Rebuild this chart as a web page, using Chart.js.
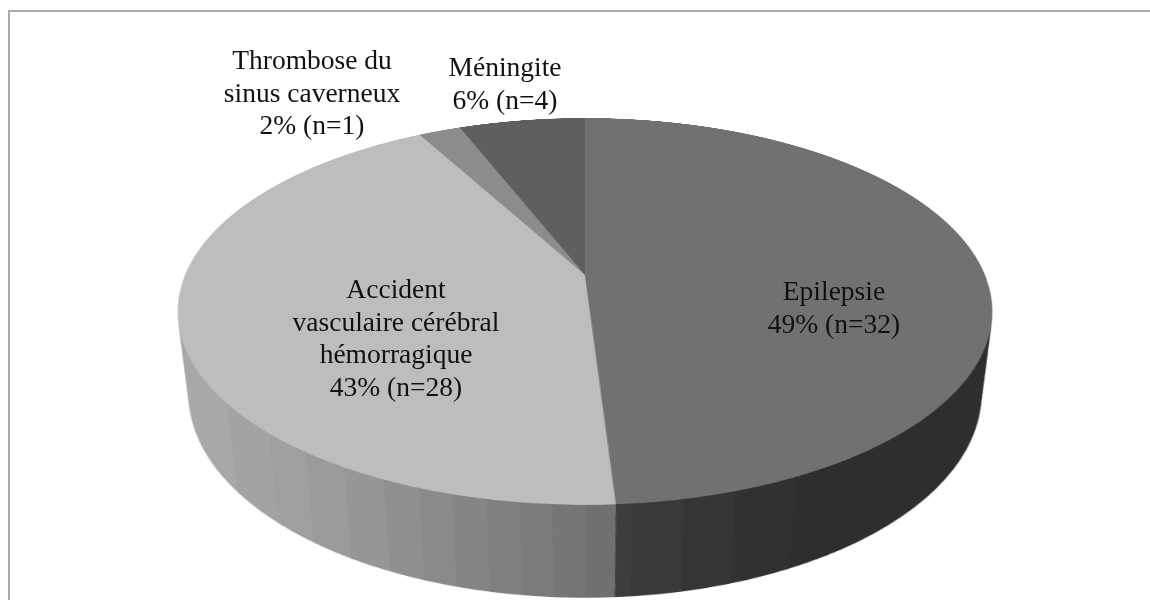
<!DOCTYPE html>
<html>
<head>
<meta charset="utf-8">
<title>Etiologies</title>
<script src="https://cdn.jsdelivr.net/npm/chart.js@4"></script>
<style>
    html, body { margin: 0; height: 100%; background: #fff; overflow: hidden; }
    #frame { position: absolute; left: 8px; top: 10px; width: 1200px; height: 640px; border: 2px solid #aaa; }
    #pie { position: absolute; left: 165px; top: -145px; transform-origin: 420px 420px;
           transform: perspective(1880px) rotateX(62.2deg); }
    .label { position: absolute; transform: translate(-50%, -50%); text-align: center; white-space: nowrap;
             font: 27.5px/32.5px "Liberation Serif", serif; color: #111; }
</style>
</head>
<body>
<div id="frame"></div>
<canvas id="pie" width="840" height="1000"></canvas>
<script>
const categories = ['Epilepsie', 'Accident vasculaire cérébral hémorragique', 'Thrombose du sinus caverneux', 'Méningite'];
const categoryLines = [['Epilepsie'], ['Accident', 'vasculaire cérébral', 'hémorragique'], ['Thrombose du', 'sinus caverneux'], ['Méningite']];
const counts = [32, 28, 1, 4];
const percents = [49, 43, 2, 6];
const topColors = ['#717171', '#bdbdbd', '#8c8c8c', '#5f5f5f'];

// bandes du bord visible : angle de fin (degrés, sens horaire depuis le haut) et gris
const bandEnds = [154, 162, 168.3, 174.5];
const bandGreys = ['#2e2e2e', '#313131', '#353535', '#393939', '#3d3d3d'];
const lightEnds = [180, 183.8, 187.6, 191.6, 195.8, 200, 204.7, 210.3, 216.4, 223, 232.5, 360];
const lightGreys = ['#707070', '#767676', '#7b7b7b', '#808080', '#858585', '#8a8a8a', '#8f8f8f', '#969696', '#9b9b9b', '#9f9f9f', '#a3a3a3', '#a8a8a8'];

const labelCenters = [[834, 307], [396, 338], [312, 93], [505, 83]];

const sideDepth = 162;
const sideShrink = 0.9;

function sideGradient(ctx, x, y, splitDeg) {
    const g = ctx.createConicGradient(-Math.PI / 2, x, y);
    let from = 0;
    bandGreys.forEach((c, i) => {
        const to = i < bandEnds.length ? bandEnds[i] : splitDeg;
        g.addColorStop(from / 360, c);
        g.addColorStop(to / 360, c);
        from = to;
    });
    from = splitDeg;
    lightGreys.forEach((c, i) => {
        g.addColorStop(from / 360, c);
        g.addColorStop(lightEnds[i] / 360, c);
        from = lightEnds[i];
    });
    return g;
}

// extrusion : le camembert est redessiné décalé vers le bas avant la face du dessus
const extrudePlugin = {
    id: 'extrude',
    beforeDatasetsDraw(chart) {
        const ctx = chart.ctx;
        const arcs = chart.getDatasetMeta(0).data;
        const x = arcs[0].x, y = arcs[0].y;
        const splitDeg = (arcs[0].endAngle + Math.PI / 2) * 180 / Math.PI;
        const grad = sideGradient(ctx, x, y, splitDeg);
        const saved = arcs.map(a => a.options);
        arcs.forEach(a => { a.options = Object.assign({}, a.options, { backgroundColor: grad, borderWidth: 0 }); });
        for (let s = sideDepth; s > 0; s -= 1) {
            const k = 1 - (1 - sideShrink) * s / sideDepth;
            ctx.save();
            ctx.translate(x, y + s);
            ctx.scale(k, k);
            ctx.translate(-x, -y);
            arcs.forEach(a => a.draw(ctx));
            ctx.restore();
        }
        arcs.forEach((a, i) => { a.options = saved[i]; });
    }
};

new Chart(document.getElementById('pie'), {
    type: 'pie',
    data: {
        labels: categories,
        datasets: [{ data: percents, backgroundColor: topColors, borderWidth: 0 }]
    },
    options: {
        responsive: false,
        animation: false,
        devicePixelRatio: 2,
        layout: { padding: { left: 20, right: 20, top: 20, bottom: 180 } },
        plugins: { legend: { display: false }, tooltip: { enabled: false } }
    },
    plugins: [extrudePlugin]
});

categoryLines.forEach((lines, i) => {
    const el = document.createElement('div');
    el.className = 'label';
    el.style.left = labelCenters[i][0] + 'px';
    el.style.top = labelCenters[i][1] + 'px';
    el.innerHTML = lines.concat(`${percents[i]}% (n=${counts[i]})`).join('<br>');
    document.body.appendChild(el);
});
</script>
</body>
</html>
